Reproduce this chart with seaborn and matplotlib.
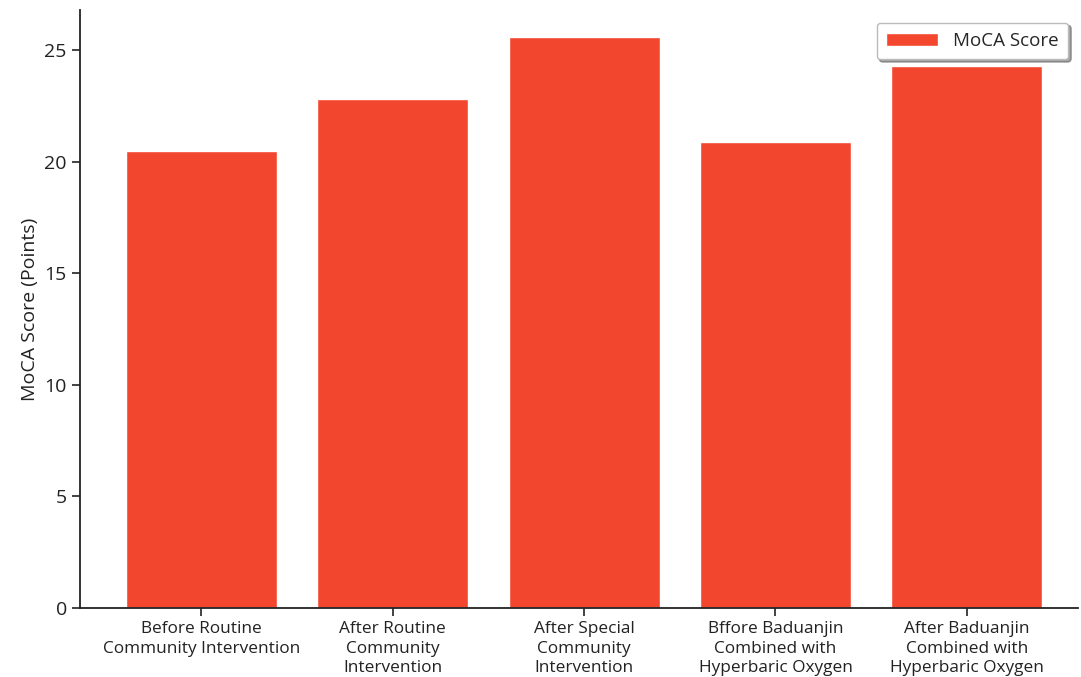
import matplotlib
matplotlib.use("Agg")
import matplotlib.pyplot as plt
import seaborn as sns
import pandas as pd

categories = [
    "Before Routine\nCommunity Intervention",
    "After Routine\nCommunity\nIntervention",
    "After Special\nCommunity\nIntervention",
    "Bffore Baduanjin\nCombined with\nHyperbaric Oxygen",
    "After Baduanjin\nCombined with\nHyperbaric Oxygen",
]
moca_scores = [20.5, 22.8, 25.6, 20.9, 24.3]
yticks = [0, 5, 10, 15, 20, 25]

sns.set_theme(style="ticks")
plt.rcParams["font.family"] = ["Open Sans", "DejaVu Sans"]

df = pd.DataFrame({"Group": categories, "Score": moca_scores})

fig = plt.figure(figsize=(10.81, 6.77), dpi=100)
ax = fig.add_axes([0.074, 0.102, 0.923, 0.883])

sns.barplot(data=df, x="Group", y="Score", color="#F2462E", saturation=1,
            width=0.79, label="MoCA Score", ax=ax)

ax.set_xlim(-0.635, 4.58)
ax.set_ylim(0, 26.8)
ax.set_yticks(yticks)
ax.set_xlabel("")
ax.set_ylabel("MoCA Score (Points)", fontsize=14, color="#222222")
ax.tick_params(axis="y", labelsize=14, length=6, width=1.2, colors="#222222")
ax.tick_params(axis="x", labelsize=12.4, length=6, width=1.2, colors="#222222")
for lbl in ax.get_xticklabels():
    lbl.set_linespacing(1.3)
sns.despine(ax=ax)
for sp in ["left", "bottom"]:
    ax.spines[sp].set_linewidth(1.3)
    ax.spines[sp].set_color("#222222")

leg = ax.legend(loc="upper right", fontsize=13.5, frameon=True, shadow=True,
                fancybox=True, borderpad=0.5, handlelength=2.8,
                bbox_to_anchor=(1.0, 0.995))
leg.get_frame().set_edgecolor("#bbbbbb")

fig.savefig("out.png", dpi=100)
